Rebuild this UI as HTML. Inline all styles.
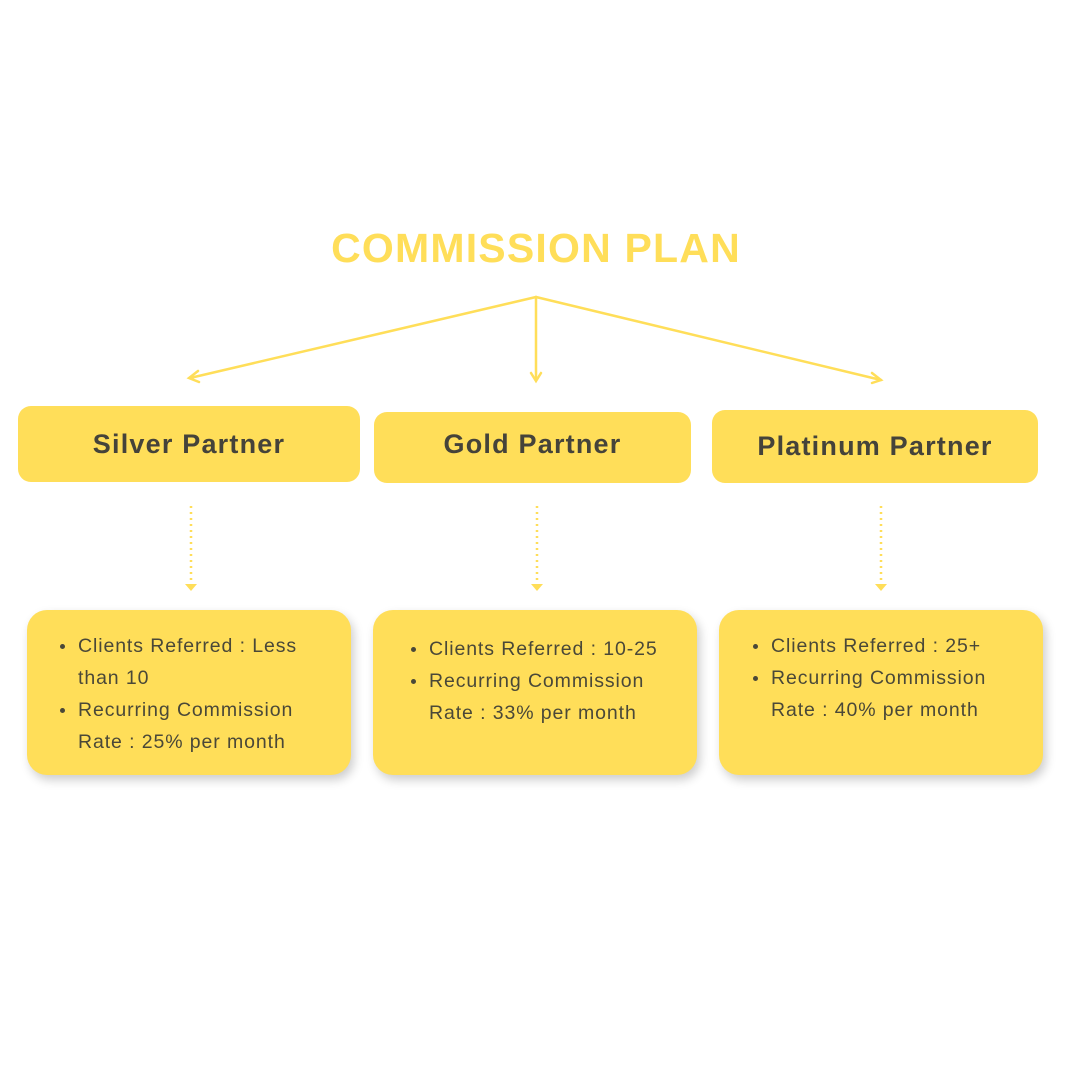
<!DOCTYPE html>
<html><head><style>
body{margin:0;width:1080px;height:1080px;background:#fff;position:relative;overflow:hidden;font-family:"Liberation Sans",sans-serif;}
.t{position:absolute;left:-4px;width:1080px;top:225px;text-align:center;color:#ffde59;font-weight:bold;font-size:41px;letter-spacing:1.2px}
.h{position:absolute;background:#ffde59;border-radius:13px;display:flex;align-items:center;justify-content:center;color:#45433a;font-weight:bold;font-size:27px;letter-spacing:1.2px}
.b{position:absolute;background:#ffde59;border-radius:20px;box-shadow:3px 5px 10px rgba(0,0,0,0.2);color:#4a4838;font-size:19.5px;line-height:32px;box-sizing:border-box;padding-left:51px;padding-right:0;letter-spacing:0.9px;white-space:nowrap}
.b ul{margin:0;padding:0;list-style:none}
.b li{position:relative}
.b li:before{content:"";position:absolute;left:-18px;top:14px;width:5px;height:5px;border-radius:50%;background:#4a4838}
</style></head><body>
<div class="t">COMMISSION PLAN</div>
<svg width="1080" height="1080" style="position:absolute;left:0;top:0">
<g stroke="#ffde59" stroke-width="2.5" fill="none" stroke-linecap="round">
<line x1="536" y1="297" x2="190" y2="378"/>
<polyline points="198,371 189,378 199,382"/>
<line x1="536" y1="297" x2="536" y2="380"/>
<polyline points="531,373 536,381 541,373"/>
<line x1="536" y1="297" x2="881" y2="380"/>
<polyline points="872,373 881,380 872,383"/>
</g>
<g stroke="#ffde59" stroke-width="2.5" stroke-dasharray="2,4">
<line x1="191" y1="506" x2="191" y2="583"/>
<line x1="537" y1="506" x2="537" y2="583"/>
<line x1="881" y1="506" x2="881" y2="583"/>
</g>
<g fill="#ffde59">
<polygon points="185,584 197,584 191,591"/>
<polygon points="531,584 543,584 537,591"/>
<polygon points="875,584 887,584 881,591"/>
</g>
</svg>
<div class="h" style="left:18px;top:406px;width:342px;height:76px">Silver Partner</div>
<div class="h" style="left:374px;top:412px;width:317px;height:71px;padding-bottom:6px;box-sizing:border-box">Gold Partner</div>
<div class="h" style="left:712px;top:410px;width:326px;height:73px">Platinum Partner</div>
<div class="b" style="left:27px;top:610px;width:324px;height:165px;padding-top:20px"><ul><li>Clients Referred : Less<br>than 10</li><li>Recurring Commission<br>Rate : 25% per month</li></ul></div>
<div class="b" style="left:373px;top:610px;width:324px;height:165px;padding-top:23px;padding-left:56px"><ul><li>Clients Referred : 10-25</li><li>Recurring Commission<br>Rate : 33% per month</li></ul></div>
<div class="b" style="left:719px;top:610px;width:324px;height:165px;padding-top:20px;padding-left:52px"><ul><li>Clients Referred : 25+</li><li>Recurring Commission<br>Rate : 40% per month</li></ul></div>
</body></html>
